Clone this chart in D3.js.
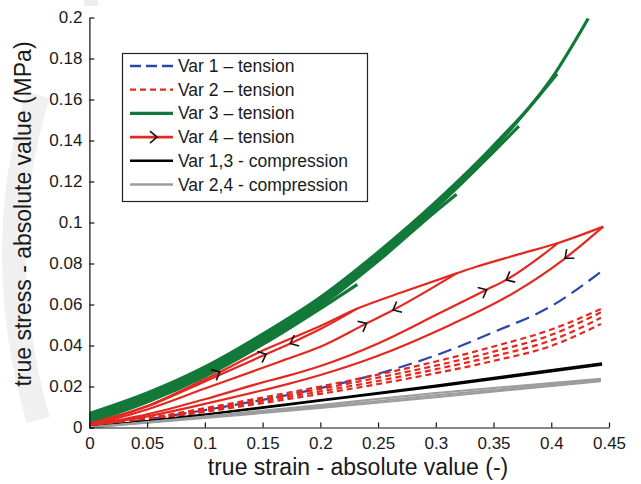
<!DOCTYPE html>
<html>
<head>
<meta charset="utf-8">
<script src="https://cdn.jsdelivr.net/npm/d3@7"></script>
<style>
  body { margin: 0; background: #fff; }
  text { font-family: "Liberation Sans", Arial, Helvetica, sans-serif; fill: #1a1a1a; }
</style>
</head>
<body>
<svg id="chart" width="641" height="484"></svg>
<script>
// ticks
var xTicks = [0, 0.05, 0.1, 0.15, 0.2, 0.25, 0.3, 0.35, 0.4, 0.45];
var yTicks = [0, 0.02, 0.04, 0.06, 0.08, 0.1, 0.12, 0.14, 0.16, 0.18, 0.2];

// Var 1 - tension (blue dashed)
var var1Tension = [[0,0.0005],[0.05,0.004],[0.1,0.0085],[0.15,0.0135],[0.2,0.0192],[0.25,0.0262],[0.3,0.0352],[0.35,0.0465],[0.4,0.0592],[0.445,0.0768]];

// Var 2 - tension (red short dashes, several samples)
var var2Tension = [
  [[0,0.0005],[0.05,0.0045],[0.1,0.0094],[0.15,0.0146],[0.2,0.0200],[0.25,0.0258],[0.3,0.0322],[0.35,0.0395],[0.4,0.0478],[0.443,0.0578]],
  [[0,0.0005],[0.05,0.0042],[0.1,0.0088],[0.15,0.0137],[0.2,0.0188],[0.25,0.0243],[0.3,0.0302],[0.35,0.0370],[0.4,0.0452],[0.443,0.0562]],
  [[0,0.0005],[0.05,0.0039],[0.1,0.0082],[0.15,0.0128],[0.2,0.0176],[0.25,0.0227],[0.3,0.0284],[0.35,0.0348],[0.4,0.0425],[0.443,0.0535]],
  [[0,0.0005],[0.05,0.0036],[0.1,0.0076],[0.15,0.0119],[0.2,0.0164],[0.25,0.0212],[0.3,0.0265],[0.35,0.0325],[0.4,0.0398],[0.443,0.0505]]
];

// Var 3 - tension (green, several samples ending at different strains)
var var3Tension = [
  [[0,0.0068],[0.05,0.0168],[0.1,0.0295],[0.15,0.0455],[0.2,0.0635],[0.25,0.0855],[0.3,0.110],[0.35,0.1375],[0.4,0.170],[0.432,0.1995]],
  [[0,0.0056],[0.05,0.0156],[0.1,0.0283],[0.15,0.0443],[0.2,0.0622],[0.25,0.0842],[0.3,0.1088],[0.35,0.1362],[0.405,0.1725]],
  [[0,0.0044],[0.05,0.0144],[0.1,0.0271],[0.15,0.0431],[0.2,0.0608],[0.25,0.0828],[0.3,0.1072],[0.35,0.1345],[0.372,0.147]],
  [[0,0.0034],[0.05,0.0134],[0.1,0.026],[0.15,0.0418],[0.2,0.0594],[0.25,0.0812],[0.3,0.1055],[0.318,0.1138]],
  [[0,0.0025],[0.05,0.0124],[0.1,0.025],[0.15,0.0405],[0.2,0.058],[0.232,0.0698]]
];

// Var 4 - tension (red, cyclic): first loading envelope and the unloading / reloading paths
var var4Loading = [[0,0.002],[0.05,0.0105],[0.1,0.0235],[0.152,0.038],[0.2,0.0495],[0.232,0.058],[0.275,0.0668],[0.318,0.0752],[0.335,0.0784],[0.37,0.0842],[0.406,0.090],[0.445,0.098]];
var var4Unloading = [
  [[0,0.0015],[0.05,0.0102],[0.1,0.0225],[0.152,0.0355],[0.174,0.041],[0.2,0.048],[0.232,0.058]],
  [[0,0.001],[0.05,0.0088],[0.1,0.019],[0.152,0.0295],[0.169,0.033],[0.2,0.0394],[0.24,0.0508],[0.263,0.0573],[0.318,0.0752]],
  [[0,0.001],[0.05,0.0064],[0.1,0.0138],[0.152,0.0223],[0.169,0.0248],[0.2,0.030],[0.25,0.041],[0.303,0.0557],[0.344,0.0672],[0.361,0.072],[0.406,0.090]],
  [[0,0.001],[0.05,0.0054],[0.1,0.0115],[0.152,0.0184],[0.169,0.0208],[0.2,0.0256],[0.25,0.035],[0.303,0.0476],[0.37,0.0665],[0.41,0.0817],[0.445,0.098]]
];
// direction arrows: strain, path (-1 = loading envelope, else unloading index), 1 = forward, -1 = backward
var var4Arrows = [
  [0.113, -1, 1], [0.153, 0, 1], [0.174, 0, -1], [0.240, 1, 1],
  [0.263, 1, -1], [0.344, 2, 1], [0.361, 2, -1], [0.412, 3, -1]
];

// Var 1,3 - compression (black)
var var13Compression = [
  [[0,0],[0.1,0.0064],[0.2,0.0134],[0.3,0.0205],[0.444,0.0313]],
  [[0,0],[0.1,0.0062],[0.2,0.0130],[0.3,0.0199],[0.444,0.0306]]
];

// Var 2,4 - compression (gray)
var var24Compression = [
  [[0,0],[0.1,0.0054],[0.2,0.0110],[0.3,0.0168],[0.443,0.0238]],
  [[0,0],[0.1,0.0050],[0.2,0.0102],[0.3,0.0157],[0.443,0.0232]],
  [[0,0],[0.1,0.0046],[0.2,0.0095],[0.3,0.0147],[0.443,0.0226]]
];

var legendLabels = ['Var 1 \u2013 tension', 'Var 2 \u2013 tension', 'Var 3 \u2013 tension', 'Var 4 \u2013 tension', 'Var 1,3 - compression', 'Var 2,4 - compression'];

var RED = '#e3281f', GREEN = '#12793a', BLUE = '#2a48a6', GRAY = '#9c9c9c';

var svg = d3.select('#chart');

/* faint background stamp */
svg.append('path')
  .attr('d', 'M38,95 Q-10,250 38,420')
  .attr('fill', 'none').attr('stroke', '#f0f0f0').attr('stroke-width', 24);
svg.append('rect').attr('x', 84).attr('y', 0).attr('width', 14).attr('height', 6).attr('fill', '#eeeeee');

var x = d3.scaleLinear().domain([0, 0.45]).range([89.4, 609]);
var y = d3.scaleLinear().domain([0, 0.2]).range([427.5, 17.5]);

var line = d3.line().x(d => x(d[0])).y(d => y(d[1])).curve(d3.curveMonotoneX);

var plot = svg.append('g');

/* Var 1 */
plot.append('path').attr('d', line(var1Tension))
  .attr('fill', 'none').attr('stroke', BLUE).attr('stroke-width', 2.2).attr('stroke-dasharray', '14,7');

/* Var 2 */
var2Tension.forEach(c => {
  plot.append('path').attr('d', line(c))
    .attr('fill', 'none').attr('stroke', RED).attr('stroke-width', 2.2).attr('stroke-dasharray', '6,4');
});

/* Var 3 */
var3Tension.forEach(c => {
  plot.append('path').attr('d', line(c))
    .attr('fill', 'none').attr('stroke', GREEN).attr('stroke-width', 3.2);
});

/* Var 4 */
plot.append('path').attr('d', line(var4Loading))
  .attr('fill', 'none').attr('stroke', RED).attr('stroke-width', 2.2);
var4Unloading.forEach(c => {
  plot.append('path').attr('d', line(c))
    .attr('fill', 'none').attr('stroke', RED).attr('stroke-width', 2.2);
});

function chevron(g, px, py, ang) {
  g.append('path').attr('d', 'M-7,-6L0,0L-7,6')
    .attr('transform', 'translate(' + px + ',' + py + ') rotate(' + ang + ')')
    .attr('fill', 'none').attr('stroke', '#111').attr('stroke-width', 1.6);
}

var4Arrows.forEach(a => {
  var c = a[1] < 0 ? var4Loading : var4Unloading[a[1]];
  var i = 1;
  while (i < c.length - 1 && c[i][0] < a[0]) i++;
  var p0 = c[i - 1], p1 = c[i];
  var t = (a[0] - p0[0]) / (p1[0] - p0[0]);
  var yv = p0[1] + t * (p1[1] - p0[1]);
  var ang = Math.atan2(y(p1[1]) - y(p0[1]), x(p1[0]) - x(p0[0])) * 180 / Math.PI;
  if (a[2] < 0) ang += 180;
  chevron(plot, x(a[0]), y(yv), ang);
});

/* compression */
var13Compression.forEach(c => {
  plot.append('path').attr('d', line(c))
    .attr('fill', 'none').attr('stroke', '#000').attr('stroke-width', 2);
});
var24Compression.forEach(c => {
  plot.append('path').attr('d', line(c))
    .attr('fill', 'none').attr('stroke', GRAY).attr('stroke-width', 2);
});

/* axes */
var fmt = d => d === 0 ? '0' : String(+d.toFixed(2));
var xAxis = svg.append('g').attr('transform', 'translate(0,' + y(0) + ')')
  .call(d3.axisBottom(x).tickValues(xTicks).tickFormat(fmt).tickSizeInner(-5).tickSizeOuter(0).tickPadding(9));
var yAxis = svg.append('g').attr('transform', 'translate(' + x(0) + ',0)')
  .call(d3.axisLeft(y).tickValues(yTicks).tickFormat(fmt).tickSizeInner(-5).tickSizeOuter(0).tickPadding(7));
[xAxis, yAxis].forEach(a => {
  a.selectAll('text').style('font-size', '17px').style('font-family', '"Liberation Sans", Arial, sans-serif').attr('fill', '#1a1a1a');
  a.selectAll('line, path').attr('stroke', '#111').attr('stroke-width', 1.2);
});

svg.append('text').attr('x', 358).attr('y', 475)
  .style('text-anchor', 'middle').style('font-size', '23px')
  .text('true strain - absolute value (-)');
svg.append('text').attr('transform', 'translate(31,214) rotate(-90)')
  .style('text-anchor', 'middle').style('font-size', '23px')
  .text('true stress - absolute value (MPa)');

/* legend */
var lg = svg.append('g');
lg.append('rect').attr('x', 122.5).attr('y', 53.5).attr('width', 245).attr('height', 148)
  .attr('fill', '#fff').attr('stroke', '#222').attr('stroke-width', 1.2);
var legendStyles = [
  { stroke: BLUE, dash: '11,5', w: 2.4 },
  { stroke: RED, dash: '6,4', w: 2.2 },
  { stroke: GREEN, dash: null, w: 3.2 },
  { stroke: RED, dash: null, w: 2.6, arrow: true },
  { stroke: '#000', dash: null, w: 2.6 },
  { stroke: GRAY, dash: null, w: 2.6 }
];
legendLabels.forEach((lab, i) => {
  var cy = 66 + i * 23.7;
  var s = legendStyles[i];
  lg.append('line').attr('x1', 130).attr('x2', 173).attr('y1', cy).attr('y2', cy)
    .attr('stroke', s.stroke).attr('stroke-width', s.w).attr('stroke-dasharray', s.dash);
  if (s.arrow) chevron(lg, 157, cy, 0);
  lg.append('text').attr('x', 178).attr('y', cy + 6).style('font-size', '17.5px').text(lab);
});
</script>
</body>
</html>
